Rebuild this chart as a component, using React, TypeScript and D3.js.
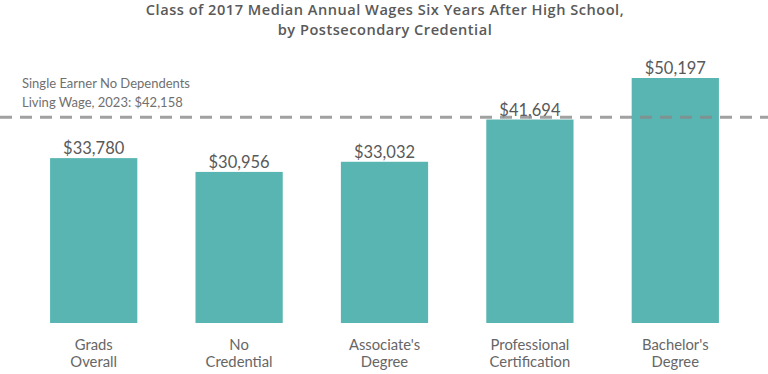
import React from "react";
import * as d3 from "d3";

const categories = [
  ["Grads", "Overall"],
  ["No", "Credential"],
  ["Associate's", "Degree"],
  ["Professional", "Certification"],
  ["Bachelor's", "Degree"],
];
const values = [33780, 30956, 33032, 41694, 50197];
const livingWage = 42158;
const titleLines = [
  "Class of 2017 Median Annual Wages Six Years After High School,",
  "by Postsecondary Credential",
];
const refLines = ["Single Earner No Dependents", "Living Wage, 2023: $42,158"];

const W = 768;
const H = 374;
const FONT = "Lato, 'Open Sans', sans-serif";

export default function App() {
  const keys = categories.map((c) => c.join(" "));
  const x = d3.scaleBand<string>().domain(keys).range([21, 748]).paddingInner(0.4).paddingOuter(0.2);
  const y = d3.scaleLinear().domain([0, 50197]).range([323, 78]);
  const fmt = (v: number) => "$" + d3.format(",")(v);

  return (
    <svg width={W} height={H} style={{ position: "absolute", left: 0, top: 0, background: "#fff" }}>
      <g fontFamily={FONT}>
        {titleLines.map((t, i) => (
          <text key={i} x={385} y={14.5 + i * 20} textAnchor="middle" fontFamily="'Open Sans', sans-serif" fontSize={14.6} fontWeight={600} letterSpacing={0.5} fill="#595959">
            {t}
          </text>
        ))}
        {refLines.map((t, i) => (
          <text key={i} x={22} y={88 + i * 19} fontSize={13} fill="#707070">
            {t}
          </text>
        ))}
        {values.map((v, i) => (
          <rect key={i} x={x(keys[i])} y={y(v)} width={x.bandwidth()} height={y(0) - y(v)} fill="#58b5b2" />
        ))}
        {values.map((v, i) => (
          <text key={i} x={(x(keys[i]) as number) + x.bandwidth() / 2} y={y(v) - 4} textAnchor="middle" fontSize={16.5} fill="#595959">
            {fmt(v)}
          </text>
        ))}
        <line x1={0} x2={W} y1={y(livingWage)} y2={y(livingWage)} stroke="#8a8a8a" strokeOpacity={0.8} strokeWidth={3} strokeDasharray="12,8" />
        {categories.map((c, i) =>
          c.map((t, j) => (
            <text key={i + "-" + j} x={(x(keys[i]) as number) + x.bandwidth() / 2} y={350 + j * 17} textAnchor="middle" fontSize={14.8} fill="#666">
              {t}
            </text>
          ))
        )}
      </g>
    </svg>
  );
}
